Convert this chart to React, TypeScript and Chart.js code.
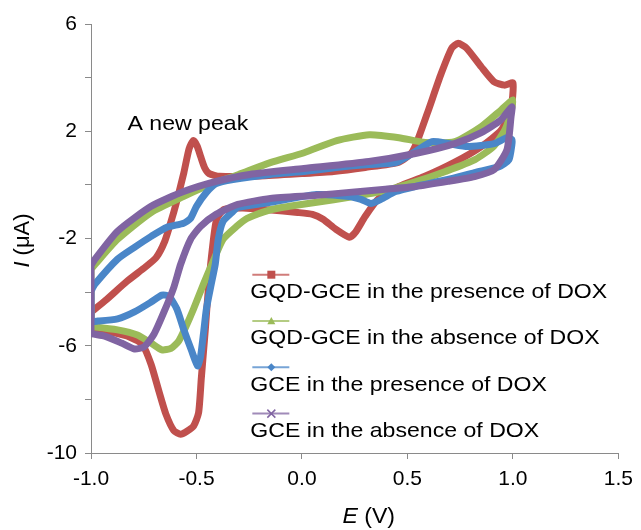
import React, { useEffect, useRef } from "react";
import { Chart, registerables } from "chart.js";

Chart.register(...registerables);

// ---------- data ----------
const seriesNames = [
  "GQD-GCE in the presence of DOX",
  "GQD-GCE in the absence of DOX",
  "GCE in the presence of DOX",
  "GCE in the absence of DOX",
];
const seriesColors = ["#C0504D", "#9BBB59", "#4A86C8", "#8064A2"];
const legendMarkers = ["square", "triangle", "diamond", "cross"];

// GQD-GCE, DOX present (red)
const redE = [
  -1.0, -0.93, -0.83, -0.74, -0.69, -0.65, -0.62, -0.595, -0.56, -0.535, -0.515, -0.497, -0.48, -0.462, -0.44,
  -0.39, -0.2, 0.0, 0.15, 0.3, 0.46, 0.52, 0.55, 0.6, 0.66, 0.71, 0.74, 0.78, 0.85, 0.91, 0.96, 1.0,
  0.99, 0.945, 0.85, 0.72, 0.58, 0.46, 0.36, 0.3, 0.255, 0.225, 0.16, 0.1, 0.05, -0.02, -0.16, -0.28, -0.37,
  -0.405, -0.425, -0.444, -0.458, -0.477, -0.49, -0.514, -0.547, -0.575, -0.607, -0.645, -0.678, -0.715,
  -0.757, -0.818, -0.888, -0.958, -1.0, -1.0,
];
const redI = [
  -4.75, -4.3, -3.6, -3.05, -2.7, -2.1, -1.35, -0.65, 0.45, 1.35, 1.65, 1.45, 1.05, 0.65, 0.42,
  0.32, 0.33, 0.42, 0.5, 0.65, 0.85, 1.2, 1.7, 2.8, 4.15, 5.1, 5.28, 5.1, 4.4, 3.85, 3.72, 3.8,
  2.8, 2.05, 1.43, 0.83, 0.31, -0.06, -0.54, -1.17, -1.75, -1.95, -1.65, -1.28, -1.1, -1.03, -0.93, -0.86, -0.92,
  -1.3, -2.4, -3.9, -5.38, -7.2, -8.5, -9.0, -9.2, -9.3, -9.17, -8.55, -7.7, -6.7,
  -5.95, -5.67, -5.52, -5.42, -5.38, -4.75,
];

// GQD-GCE, DOX absent (green)
const greenE = [
  -1.0, -0.98, -0.874, -0.715, -0.56, -0.435, -0.3, -0.15, 0.01, 0.165, 0.32, 0.46, 0.585, 0.725, 0.85, 0.945, 1.0,
  0.99, 0.965, 0.91, 0.82, 0.68, 0.54, 0.4, 0.23, 0.07, -0.06, -0.15, -0.26, -0.31, -0.374, -0.421, -0.467,
  -0.514, -0.551, -0.584, -0.621, -0.664, -0.715, -0.78, -0.874, -0.98, -1.0, -1.0,
];
const greenI = [
  -3.15, -2.96, -2.03, -1.03, -0.43, 0.01, 0.39, 0.83, 1.2, 1.65, 1.87, 1.76, 1.58, 1.61, 2.17, 2.8, 3.17,
  2.7, 2.1, 1.45, 0.94, 0.5, 0.12, -0.2, -0.45, -0.65, -0.8, -0.93, -1.25, -1.55, -2.03, -2.85, -3.7,
  -4.63, -5.3, -5.82, -6.1, -6.15, -5.9, -5.6, -5.41, -5.3, -5.3, -3.15,
];

// GCE, DOX present (blue)
const blueE = [
  -1.0, -0.981, -0.874, -0.794, -0.715, -0.64, -0.561, -0.528, -0.5, -0.453, -0.407, -0.327, -0.15, 0.009,
  0.164, 0.318, 0.444, 0.537, 0.617, 0.692, 0.785, 0.911, 0.972, 0.995,
  0.995, 0.981, 0.935, 0.818, 0.692, 0.537, 0.444, 0.374, 0.327, 0.28, 0.224, 0.07, -0.15, -0.304,
  -0.327, -0.374, -0.397, -0.411, -0.43, -0.453, -0.467, -0.481, -0.495, -0.523, -0.561, -0.593, -0.631,
  -0.664, -0.715, -0.794, -0.874, -0.967, -1.0, -1.0,
];
const blueI = [
  -3.96, -3.7, -2.77, -2.33, -1.92, -1.58, -1.43, -1.25, -0.8, -0.28, 0.05, 0.2, 0.39, 0.5,
  0.65, 0.76, 0.83, 1.24, 1.61, 1.54, 1.43, 1.54, 1.76, 1.69,
  1.5, 0.94, 0.68, 0.46, 0.2, -0.06, -0.25, -0.54, -0.69, -0.54, -0.43, -0.36, -0.65, -0.84,
  -0.99, -1.36, -2.03, -2.96, -3.7, -4.63, -5.56, -6.42, -6.75, -6.19, -5.38, -4.63, -4.15,
  -4.11, -4.37, -4.74, -5.0, -5.08, -5.08, -3.96,
];

// GCE, DOX absent (purple)
const purpleE = [
  -1.0, -0.981, -0.874, -0.715, -0.561, -0.407, -0.248, 0.009, 0.318, 0.537, 0.724, 0.85, 0.944, 0.995,
  0.991, 0.972, 0.911, 0.818, 0.692, 0.537, 0.383, 0.224, 0.07, -0.15, -0.304, -0.407, -0.481, -0.528,
  -0.575, -0.607, -0.654, -0.701, -0.748, -0.794, -0.855, -0.935, -0.995, -1.0, -1.0,
];
const purpleI = [
  -3.0, -2.77, -1.73, -0.8, -0.25, 0.13, 0.39, 0.61, 0.87, 1.17, 1.54, 1.95, 2.43, 2.91,
  2.54, 1.32, 0.57, 0.31, 0.13, -0.06, -0.17, -0.28, -0.39, -0.51, -0.73, -1.1, -1.55, -2.03,
  -2.96, -3.81, -4.74, -5.56, -6.04, -6.12, -5.9, -5.64, -5.56, -5.52, -3.0,
];

const seriesE = [redE, greenE, blueE, purpleE];
const seriesI = [redI, greenI, blueI, purpleI];

// axes
const X_MIN = -1.0;
const X_MAX = 1.5;
const X_STEP = 0.5;
const Y_MIN = -10;
const Y_MAX = 6;
const Y_STEP = 2;
const Y_LABEL_EVERY = 4;

const xTitle = [
  { text: "E", italic: true },
  { text: " (V)", italic: false },
];
const yTitle = [
  { text: "I", italic: true },
  { text: " (\u03BCA)", italic: false },
];
const annotationText = "A new peak";

const FONT = '"Liberation Sans", Arial, sans-serif';

function drawParts(ctx: CanvasRenderingContext2D, parts: { text: string; italic: boolean }[], size: number) {
  let cx = 0;
  for (const p of parts) {
    ctx.font = `${p.italic ? "italic " : ""}${size}px ${FONT}`;
    ctx.fillText(p.text, cx, 0);
    cx += ctx.measureText(p.text).width;
  }
  return cx;
}
function partsWidth(ctx: CanvasRenderingContext2D, parts: { text: string; italic: boolean }[], size: number) {
  let w = 0;
  for (const p of parts) {
    ctx.font = `${p.italic ? "italic " : ""}${size}px ${FONT}`;
    w += ctx.measureText(p.text).width;
  }
  return w;
}

function drawMarker(ctx: CanvasRenderingContext2D, kind: string, x: number, y: number, color: string) {
  ctx.save();
  ctx.fillStyle = color;
  ctx.strokeStyle = color;
  ctx.lineWidth = 1.5;
  const r = 4;
  ctx.beginPath();
  if (kind === "square") {
    ctx.rect(x - r, y - r, 2 * r, 2 * r);
    ctx.fill();
  } else if (kind === "triangle") {
    ctx.moveTo(x, y - r);
    ctx.lineTo(x + r, y + r * 0.8);
    ctx.lineTo(x - r, y + r * 0.8);
    ctx.closePath();
    ctx.fill();
  } else if (kind === "diamond") {
    ctx.moveTo(x, y - r);
    ctx.lineTo(x + r, y);
    ctx.lineTo(x, y + r);
    ctx.lineTo(x - r, y);
    ctx.closePath();
    ctx.fill();
  } else {
    ctx.moveTo(x - r, y - r);
    ctx.lineTo(x + r, y + r);
    ctx.moveTo(x + r, y - r);
    ctx.lineTo(x - r, y + r);
    ctx.stroke();
  }
  ctx.restore();
}

const overlayPlugin = {
  id: "overlay",
  afterDraw(chart: any) {
    const ctx: CanvasRenderingContext2D = chart.ctx;
    const xs = chart.scales.x;
    const ys = chart.scales.y;
    const area = chart.chartArea;
    ctx.save();
    ctx.fillStyle = "#000";
    ctx.textBaseline = "middle";
    ctx.textAlign = "left";

    // annotation near the new peak
    ctx.save();
    ctx.translate(xs.getPixelForValue(-0.827), ys.getPixelForValue(2.25));
    ctx.scale(1.1, 1);
    ctx.font = `21px ${FONT}`;
    ctx.fillText(annotationText, 0, 0);
    ctx.restore();

    // legend (inside plot, lower right)
    const legX = xs.getPixelForValue(-0.24);
    const sampleY0 = ys.getPixelForValue(-3.35);
    const gap = 46.3;
    seriesNames.forEach((name, i) => {
      const sy = sampleY0 + i * gap;
      ctx.save();
      ctx.globalAlpha = 0.75;
      ctx.strokeStyle = seriesColors[i];
      ctx.lineWidth = 2;
      ctx.beginPath();
      ctx.moveTo(legX + 1, sy);
      ctx.lineTo(legX + 38, sy);
      ctx.stroke();
      ctx.restore();
      drawMarker(ctx, legendMarkers[i], legX + 20, sy, seriesColors[i]);
      ctx.save();
      ctx.translate(legX - 1, sy + 17.5);
      ctx.scale(1.1, 1);
      ctx.font = `21px ${FONT}`;
      ctx.fillText(name, 0, 0);
      ctx.restore();
    });

    // x axis title
    ctx.save();
    const xw = partsWidth(ctx, xTitle, 22) * 1.05;
    ctx.translate((area.left + area.right) / 2 - xw / 2 + 14, 517);
    ctx.scale(1.05, 1);
    drawParts(ctx, xTitle, 22);
    ctx.restore();

    // y axis title
    ctx.save();
    const yw = partsWidth(ctx, yTitle, 22);
    ctx.translate(23, (area.top + area.bottom) / 2 + 2);
    ctx.rotate(-Math.PI / 2);
    ctx.translate(-yw / 2, 0);
    drawParts(ctx, yTitle, 22);
    ctx.restore();

    ctx.restore();
  },
};

export default function App() {
  const canvasRef = useRef<HTMLCanvasElement | null>(null);

  useEffect(() => {
    if (!canvasRef.current) return;
    const datasets = seriesNames.map((name, i) => ({
      label: name,
      data: seriesE[i].map((e, k) => ({ x: e, y: seriesI[i][k] })),
      showLine: true,
      borderColor: seriesColors[i],
      backgroundColor: seriesColors[i],
      borderWidth: 7,
      pointRadius: 0,
      tension: 0.2,
      fill: false,
      order: 4 - i,
      borderCapStyle: "round" as const,
      borderJoinStyle: "round" as const,
    }));

    const chart = new Chart(canvasRef.current, {
      type: "scatter",
      data: { datasets },
      options: {
        animation: false,
        responsive: true,
        maintainAspectRatio: false,
        devicePixelRatio: 1,
        layout: { padding: { top: 24, right: 17, left: 0, bottom: 0 } },
        plugins: {
          legend: { display: false },
          tooltip: { enabled: false },
          title: { display: false },
        },
        scales: {
          x: {
            type: "linear",
            min: X_MIN,
            max: X_MAX,
            ticks: {
              stepSize: X_STEP,
              color: "#000",
              font: { size: 21, family: FONT },
              padding: 8,
              callback: (v: any) => Number(v).toFixed(1),
            },
            grid: {
              display: true,
              drawOnChartArea: false,
              drawTicks: true,
              tickLength: 6,
              color: "#8a8a8a",
            },
            border: { display: true, color: "#8a8a8a", width: 1 },
            afterFit: (s: any) => {
              s.height = 77;
            },
          },
          y: {
            type: "linear",
            min: Y_MIN,
            max: Y_MAX,
            ticks: {
              stepSize: Y_STEP,
              color: "#000",
              font: { size: 21, family: FONT },
              padding: 8,
              callback: (v: any) => ((Number(v) - Y_MIN) % Y_LABEL_EVERY === 0 ? String(v) : ""),
            },
            grid: {
              display: true,
              drawOnChartArea: false,
              drawTicks: true,
              tickLength: 6,
              color: "#8a8a8a",
            },
            border: { display: true, color: "#8a8a8a", width: 1 },
            afterFit: (s: any) => {
              s.width = 91;
            },
          },
        },
      },
      plugins: [overlayPlugin],
    });
    return () => chart.destroy();
  }, []);

  return (
    <div style={{ position: "fixed", left: 0, top: 0, width: 641, height: 530, background: "#fff" }}>
      <canvas ref={canvasRef} />
    </div>
  );
}
